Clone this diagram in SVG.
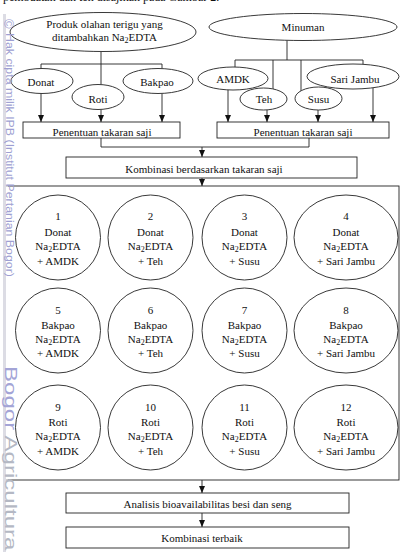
<svg xmlns="http://www.w3.org/2000/svg" width="406" height="552" viewBox="0 0 406 552">
<style>
.bg{fill:#ffffff}
.n{fill:#ffffff;stroke:#222;stroke-width:0.9}
.c{fill:none;stroke:#222;stroke-width:0.9}
.t{font-family:"Liberation Serif","Times New Roman",serif;font-size:11px;fill:#111;text-anchor:middle}
.s{font-size:8px}
.wm{font-family:"Liberation Sans",Arial,sans-serif;fill:#9d9fd2}
</style>
<defs>
<marker id="ah" viewBox="0 0 7 6" refX="7" refY="3" markerWidth="7" markerHeight="6" markerUnits="userSpaceOnUse" orient="auto">
<path d="M0,0 L7,3 L0,6 Z" fill="#111"/>
</marker>
</defs>
<rect class="bg" x="0" y="0" width="406" height="552"/>
<text class="t" x="3" y="1" style="text-anchor:start;font-size:12px">pembuatan dan teh disajikan pada Gambar 2.</text>

<g id="connectors">
<path class="c" d="M101,52 V64 M41,64 H162 M41,64 V68.5 M101,64 V84.5 M162,64 V68.5"/>
<path class="c" d="M41,93.5 V122" marker-end="url(#ah)"/>
<path class="c" d="M101,109.5 V122" marker-end="url(#ah)"/>
<path class="c" d="M162,93.5 V122" marker-end="url(#ah)"/>
<path class="c" d="M287,40.3 V60 M235,60 H363 M235,60 V67 M273,60 V89 M301,60 V91 M363,60 V64.3"/>
<path class="c" d="M228,90 V122" marker-end="url(#ah)"/>
<path class="c" d="M267,110 V122" marker-end="url(#ah)"/>
<path class="c" d="M318,110 V122" marker-end="url(#ah)"/>
<path class="c" d="M373,88 V122" marker-end="url(#ah)"/>
<path class="c" d="M101,138 V147 H309 V138"/>
<path class="c" d="M202,147 V157" marker-end="url(#ah)"/>
<path class="c" d="M202,178 V186" marker-end="url(#ah)"/>
<path class="c" d="M202,480 V493" marker-end="url(#ah)"/>
<path class="c" d="M202,513 V527" marker-end="url(#ah)"/>
</g>

<g id="produk"><ellipse class="n" cx="103" cy="32" rx="93" ry="19.5"/>
<text class="t" x="104.5" y="27.5">Produk olahan terigu yang</text>
<text class="t" x="104.5" y="41">ditambahkan Na<tspan class="s" dy="2">2</tspan><tspan dy="-2">EDTA</tspan></text></g>
<g id="donat"><ellipse class="n" cx="42" cy="81" rx="31" ry="12.5"/><text class="t" x="41" y="85.5">Donat</text></g>
<g id="roti"><ellipse class="n" cx="98" cy="97" rx="26" ry="12.5"/><text class="t" x="98" y="103">Roti</text></g>
<g id="bakpao"><ellipse class="n" cx="158" cy="81" rx="35" ry="12.5"/><text class="t" x="157" y="85.5">Bakpao</text></g>

<g id="minuman"><ellipse class="n" cx="303" cy="27" rx="94" ry="13.5"/><text class="t" x="303" y="30.5">Minuman</text></g>
<g id="amdk"><ellipse class="n" cx="233" cy="78.5" rx="35" ry="11.5"/><text class="t" x="233" y="83">AMDK</text></g>
<g id="teh"><ellipse class="n" cx="263.5" cy="99" rx="23.5" ry="11"/><text class="t" x="264" y="102.5">Teh</text></g>
<g id="susu"><ellipse class="n" cx="318.5" cy="98.5" rx="23.5" ry="11.5"/><text class="t" x="318.5" y="102.5">Susu</text></g>
<g id="sarijambu"><ellipse class="n" cx="353" cy="76.5" rx="46" ry="12.5"/><text class="t" x="355" y="83">Sari Jambu</text></g>

<g id="penentuan1"><rect class="n" x="23" y="122" width="157" height="16"/><text class="t" x="102" y="136">Penentuan takaran saji</text></g>
<g id="penentuan2"><rect class="n" x="217" y="122" width="172" height="16"/><text class="t" x="303" y="136">Penentuan takaran saji</text></g>
<g id="kombinasi"><rect class="n" x="66" y="157" width="291" height="21"/><text class="t" x="204" y="172.5">Kombinasi berdasarkan takaran saji</text></g>

<g id="grid"><rect class="n" x="5" y="186" width="394" height="294"/></g>

<g id="k1"><circle class="n" cx="58" cy="237.5" r="42.5"/><text class="t" x="58" y="220">1</text><text class="t" x="58" y="235.5">Donat</text><text class="t" x="58" y="250">Na<tspan class="s" dy="2">2</tspan><tspan dy="-2">EDTA</tspan></text><text class="t" x="58" y="264.5">+ AMDK</text></g>
<g id="k2"><circle class="n" cx="150.5" cy="237.5" r="42.5"/><text class="t" x="150.5" y="220">2</text><text class="t" x="150.5" y="235.5">Donat</text><text class="t" x="150.5" y="250">Na<tspan class="s" dy="2">2</tspan><tspan dy="-2">EDTA</tspan></text><text class="t" x="150.5" y="264.5">+ Teh</text></g>
<g id="k3"><circle class="n" cx="244.5" cy="237.5" r="42.5"/><text class="t" x="244.5" y="220">3</text><text class="t" x="244.5" y="235.5">Donat</text><text class="t" x="244.5" y="250">Na<tspan class="s" dy="2">2</tspan><tspan dy="-2">EDTA</tspan></text><text class="t" x="244.5" y="264.5">+ Susu</text></g>
<g id="k4"><ellipse class="n" cx="346" cy="237.5" rx="52" ry="42.5"/><text class="t" x="346" y="220">4</text><text class="t" x="346" y="235.5">Donat</text><text class="t" x="346" y="250">Na<tspan class="s" dy="2">2</tspan><tspan dy="-2">EDTA</tspan></text><text class="t" x="346" y="264.5">+ Sari Jambu</text></g>

<g id="k5"><circle class="n" cx="58" cy="330.5" r="42.5"/><text class="t" x="58" y="313.5">5</text><text class="t" x="58" y="328.5">Bakpao</text><text class="t" x="58" y="342.5">Na<tspan class="s" dy="2">2</tspan><tspan dy="-2">EDTA</tspan></text><text class="t" x="58" y="357">+ AMDK</text></g>
<g id="k6"><circle class="n" cx="150.5" cy="330.5" r="42.5"/><text class="t" x="150.5" y="313.5">6</text><text class="t" x="150.5" y="328.5">Bakpao</text><text class="t" x="150.5" y="342.5">Na<tspan class="s" dy="2">2</tspan><tspan dy="-2">EDTA</tspan></text><text class="t" x="150.5" y="357">+ Teh</text></g>
<g id="k7"><circle class="n" cx="244.5" cy="330.5" r="42.5"/><text class="t" x="244.5" y="313.5">7</text><text class="t" x="244.5" y="328.5">Bakpao</text><text class="t" x="244.5" y="342.5">Na<tspan class="s" dy="2">2</tspan><tspan dy="-2">EDTA</tspan></text><text class="t" x="244.5" y="357">+ Susu</text></g>
<g id="k8"><ellipse class="n" cx="346" cy="330.5" rx="52" ry="42.5"/><text class="t" x="346" y="313.5">8</text><text class="t" x="346" y="328.5">Bakpao</text><text class="t" x="346" y="342.5">Na<tspan class="s" dy="2">2</tspan><tspan dy="-2">EDTA</tspan></text><text class="t" x="346" y="357">+ Sari Jambu</text></g>

<g id="k9"><circle class="n" cx="58" cy="427.5" r="42.5"/><text class="t" x="58" y="411">9</text><text class="t" x="58" y="425.5">Roti</text><text class="t" x="58" y="440">Na<tspan class="s" dy="2">2</tspan><tspan dy="-2">EDTA</tspan></text><text class="t" x="58" y="454.5">+ AMDK</text></g>
<g id="k10"><circle class="n" cx="150.5" cy="427.5" r="42.5"/><text class="t" x="150.5" y="411">10</text><text class="t" x="150.5" y="425.5">Roti</text><text class="t" x="150.5" y="440">Na<tspan class="s" dy="2">2</tspan><tspan dy="-2">EDTA</tspan></text><text class="t" x="150.5" y="454.5">+ Teh</text></g>
<g id="k11"><circle class="n" cx="244.5" cy="427.5" r="42.5"/><text class="t" x="244.5" y="411">11</text><text class="t" x="244.5" y="425.5">Roti</text><text class="t" x="244.5" y="440">Na<tspan class="s" dy="2">2</tspan><tspan dy="-2">EDTA</tspan></text><text class="t" x="244.5" y="454.5">+ Susu</text></g>
<g id="k12"><ellipse class="n" cx="346" cy="427.5" rx="52" ry="42.5"/><text class="t" x="346" y="411">12</text><text class="t" x="346" y="425.5">Roti</text><text class="t" x="346" y="440">Na<tspan class="s" dy="2">2</tspan><tspan dy="-2">EDTA</tspan></text><text class="t" x="346" y="454.5">+ Sari Jambu</text></g>

<g id="analisis"><rect class="n" x="66" y="493" width="283" height="20"/><text class="t" x="207.5" y="507.5">Analisis bioavailabilitas besi dan seng</text></g>
<g id="terbaik"><rect class="n" x="66" y="527" width="283" height="21"/><text class="t" x="202" y="541.5">Kombinasi terbaik</text></g>

<g id="watermark">
<rect x="0" y="14" width="8" height="538" fill="#ffffff" opacity="0.55"/>
<rect x="3" y="14" width="3" height="538" fill="#dcdce4"/>
<text class="wm" transform="translate(4,19) rotate(90)" font-size="13">©</text>
<text class="wm" transform="translate(5.5,33) rotate(90)" font-size="10" textLength="244" lengthAdjust="spacingAndGlyphs">Hak cipta milik IPB (Institut Pertanian Bogor)</text>
<text class="wm" transform="translate(4.5,366) rotate(90)" font-size="16.5" textLength="302" lengthAdjust="spacingAndGlyphs"><tspan fill="#a3a4d6">Bogor </tspan><tspan fill="#b4b8c4">Agricultural University</tspan></text>
</g>
</svg>
